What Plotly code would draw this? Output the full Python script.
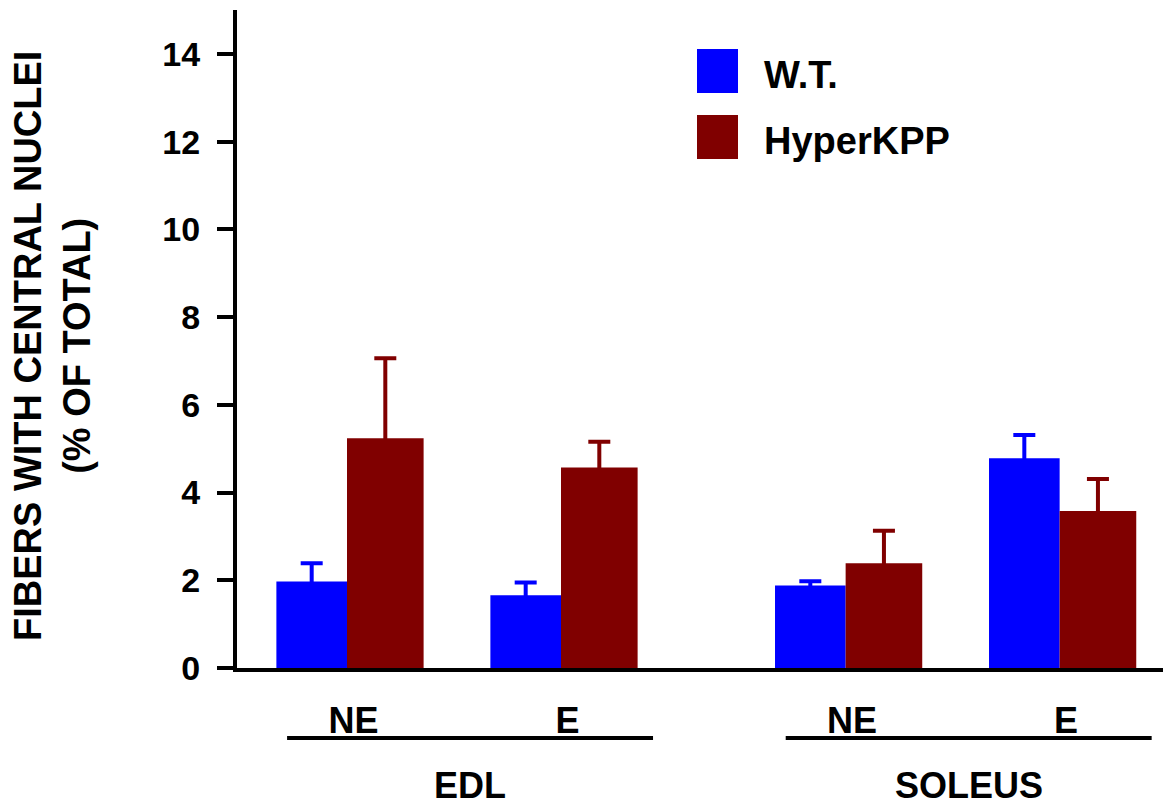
import plotly.graph_objects as go

# ---- data ----
muscles = ["EDL", "SOLEUS"]
conditions = ["NE", "E", "NE", "E"]
muscle_of_bar = ["EDL", "EDL", "SOLEUS", "SOLEUS"]
wt_mean = [1.97, 1.66, 1.88, 4.78]
wt_sem = [0.42, 0.29, 0.10, 0.53]
hyper_mean = [5.24, 4.57, 2.39, 3.58]
hyper_sem = [1.82, 0.59, 0.74, 0.73]
series_names = ["W.T.", "HyperKPP"]
y_ticks = [0, 2, 4, 6, 8, 10, 12, 14]

# ---- layout helpers ----
GROUP_GAP = 0.33
positions = []
gi = -1
prev = None
for i, m in enumerate(muscle_of_bar):
    if m != prev:
        gi += 1
        prev = m
    positions.append(i + GROUP_GAP * gi)

BLUE = "#0000FF"
RED = "#800000"
FONT = "Liberation Sans, Arial, sans-serif"

W_WT = 0.33
W_HY = 0.358

fig = go.Figure()
series = [
    (wt_mean, wt_sem, BLUE, W_WT, -W_WT),
    (hyper_mean, hyper_sem, RED, W_HY, 0),
]
# error bars first (on transparent bars) so the visible bars hide their lower half
for mean, sem, col, w, off in series:
    fig.add_trace(go.Bar(
        x=positions, y=mean, width=w, offset=off,
        marker=dict(color="rgba(0,0,0,0)", line=dict(width=0)),
        error_y=dict(type="data", array=sem, color=col, thickness=4, width=11),
        showlegend=False, hoverinfo="skip"))
for (mean, sem, col, w, off), name in zip(series, series_names):
    fig.add_trace(go.Bar(
        x=positions, y=mean, name=name, width=w, offset=off,
        marker=dict(color=col, line=dict(width=0)),
        showlegend=False))

L, R, T, B = 237, 12, 10, 138
W, H = 1175, 806
PW, PH = W - L - R, H - T - B


def px_x(px):
    return (px - L) / PW


def px_y(py):
    return (H - B - py) / PH


fig.update_layout(
    width=W, height=H,
    margin=dict(l=L, r=R, t=T, b=B),
    plot_bgcolor="white", paper_bgcolor="white",
    barmode="overlay",
    font=dict(family=FONT, color="black", size=33, weight="bold"),
    xaxis=dict(range=[-0.514, 3.813], showgrid=False, zeroline=False,
               showline=True, linewidth=4, linecolor="black",
               tickvals=[p + 0.03 for p in positions], ticktext=conditions,
               ticks="outside", ticklen=18, tickcolor="rgba(0,0,0,0)",
               tickfont=dict(size=36, family=FONT, weight="bold")),
    yaxis=dict(range=[0, 15], showgrid=False, zeroline=False,
               showline=True, linewidth=4, linecolor="black",
               tickvals=y_ticks, ticks="outside", ticklen=16, tickwidth=4,
               tickcolor="black", ticklabelstandoff=10,
               tickfont=dict(size=34, family=FONT, weight="bold")),
)

# y axis title
fig.add_annotation(
    text="FIBERS WITH CENTRAL NUCLEI<br>(% OF TOTAL)",
    xref="paper", yref="paper", x=px_x(52), y=px_y(346),
    xanchor="center", yanchor="middle", textangle=-90, showarrow=False,
    font=dict(size=38, family=FONT, weight="bold"))

# group underlines & labels
for m in muscles:
    idx = [i for i, mm in enumerate(muscle_of_bar) if mm == m]
    x0 = positions[idx[0]] - 0.28
    x1 = positions[idx[-1]] + 0.43
    fig.add_shape(type="line", xref="x", yref="paper", x0=x0, x1=x1,
                  y0=px_y(738), y1=px_y(738),
                  line=dict(color="black", width=4))
    fig.add_annotation(text=m, xref="x", yref="paper", x=(x0 + x1) / 2, y=px_y(785),
                       xanchor="center", yanchor="middle", showarrow=False,
                       font=dict(size=36, family=FONT, weight="bold"))

# legend drawn manually
for k, (col, name) in enumerate(zip([BLUE, RED], series_names)):
    top = 49 + k * 66
    fig.add_shape(type="rect", xref="paper", yref="paper",
                  x0=px_x(697), x1=px_x(738), y0=px_y(top), y1=px_y(top + 44),
                  fillcolor=col, line=dict(width=0))
    fig.add_annotation(text=name, xref="paper", yref="paper",
                       x=px_x(762), y=px_y(top + 26), xanchor="left", yanchor="middle",
                       showarrow=False, font=dict(size=38, family=FONT, weight="bold"))

fig.write_html("out.html")
